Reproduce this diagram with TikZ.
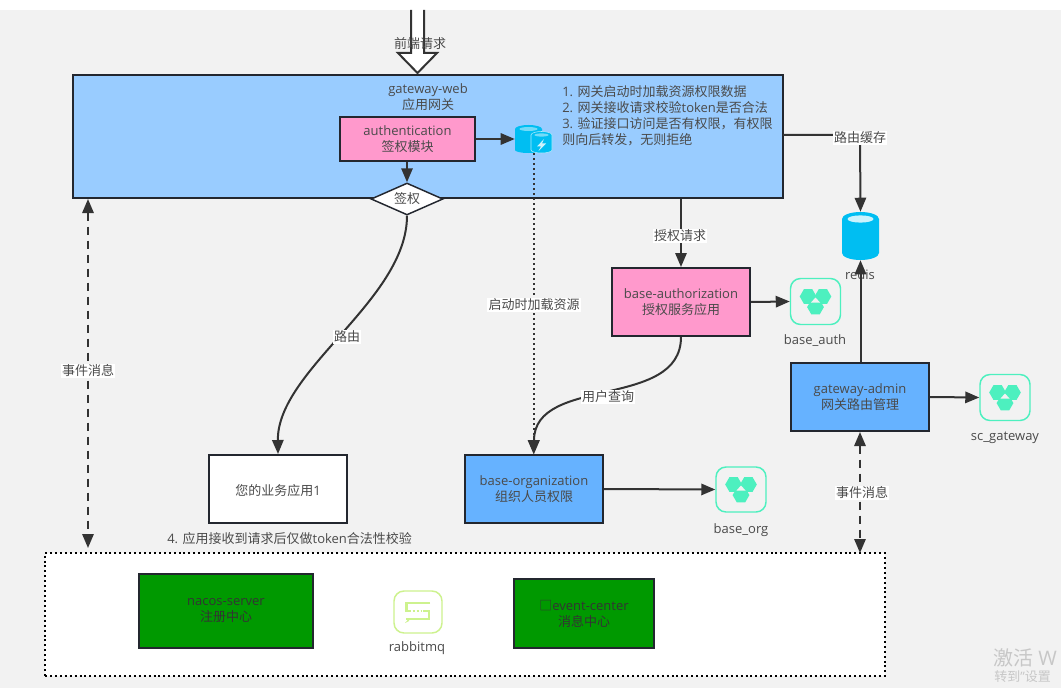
\documentclass[tikz,border=0pt]{standalone}
\usepackage{fontspec}
\setmainfont{Open Sans}
\newfontfamily\cjk{Noto Sans CJK SC}
\usetikzlibrary{arrows.meta,shapes.geometric,calc}
\newcommand\zh[1]{{\cjk #1}}
\definecolor{bggray}{HTML}{F2F2F2}
\definecolor{skyb}{HTML}{99CCFF}
\definecolor{midb}{HTML}{66B2FF}
\definecolor{pinkb}{HTML}{FF99CC}
\definecolor{greenb}{HTML}{009900}
\definecolor{edgec}{HTML}{23272F}
\definecolor{linec}{HTML}{333333}
\definecolor{textc}{HTML}{4A4A4A}
\definecolor{dbmint}{HTML}{4DF0BF}
\definecolor{mqlime}{HTML}{CDF28E}
\definecolor{cyanb}{HTML}{00BEF2}
\tikzset{
  txt/.style={font=\fontsize{9.75pt}{12pt}\selectfont,text=textc,align=center,inner sep=0pt},
  boxn/.style={txt,draw=edgec,line width=1.5pt,inner sep=0pt,execute at begin node={\rule{0pt}{10pt}}},
  lab/.style={txt,fill=white,inner sep=1pt},
  conn/.style={draw=linec,line width=1.5pt,-{Triangle[length=10.5pt,width=8.5pt]}},
  dashconn/.style={draw=linec,line width=1.5pt,dash pattern=on 6.5pt off 4pt,{Triangle[length=10.5pt,width=8.5pt]}-{Triangle[length=10.5pt,width=8.5pt]}},
  dotconn/.style={conn,dash pattern=on 1.5pt off 2.25pt},
  iconbox/.style={draw=#1,fill=bggray,line width=1.1pt,rounded corners=7.5pt,inner sep=0pt},
}
% \bx{name}{x1}{y1}{x2}{y2}{style}{text}
\newcommand\bx[7]{%
  \pgfmathsetmacro\bw{(#4-#2)*0.75}\pgfmathsetmacro\bh{(#5-#3)*0.75}%
  \node[boxn,#6,minimum width=\bw pt,minimum height=\bh pt] (#1) at ({(#2+#4)/2},{(#3+#5)/2}) {#7};}
% database icon
\newcommand\hexa[2]{\node[regular polygon,regular polygon sides=6,fill=dbmint,inner sep=0pt,minimum size=12.6pt] at (#1,#2) {};}
\newcommand\dbicon[5]{%
  \pgfmathsetmacro\bw{(#4)*0.75}\pgfmathsetmacro\bh{(#5)*0.75}%
  \node[iconbox=dbmint,minimum width=\bw pt,minimum height=\bh pt] (#1) at (#2,#3) {};
  \begin{scope}[shift={(#1.center)}]
    \hexa{-7.4}{-5}\hexa{7.4}{-5}\hexa{0}{5.6}
    \fill[bggray] (0,-4) -- (-4.5,1) -- (4.5,1) -- cycle;
  \end{scope}}
\begin{document}
\begin{tikzpicture}[x=0.75pt,y=-0.75pt]
\useasboundingbox (0,0) rectangle (1061,692);
\fill[white] (0,0) rectangle (1061,692);
\fill[bggray] (0,10) rectangle (1061,688);

% dotted container
\bx{infra}{45}{553}{885}{676}{fill=white,draw=black,line width=1.2pt,dash pattern=on 1.5pt off 2.2pt}{}
% main gateway
\bx{gw}{73}{75}{783}{198}{fill=skyb}{}
\node[txt] (gwt) at (428,97) {gateway-web\\\zh{应用网关}};
\node[txt,align=left,anchor=west] (note) at (562,116) {1. \zh{网关启动时加载资源权限数据}\\2. \zh{网关接收请求校验}token\zh{是否合法}\\3. \zh{验证接口访问是否有权限，有权限}\\\zh{则向后转发，无则拒绝}};
\bx{auth}{340}{117}{475}{161}{fill=pinkb}{authentication\\\zh{签权模块}}

% top arrow
\path[draw=linec,line width=1.5pt,fill=white] (411,10) -- (411,53) -- (398,53) -- (417.5,73) -- (437,53) -- (424,53) -- (424,10);
\node[txt] (front) at (420,44) {\zh{前端请求}};

% diamond
\node[diamond,aspect=2.25,draw=edgec,fill=white,line width=1.1pt,inner sep=0pt,minimum width=54pt,minimum height=24pt,txt] (sign) at (407,199) {\zh{签权}};

% cache icon
\node[inner sep=0pt,minimum width=27.75pt,minimum height=21pt] (cache) at (533.5,139) {};
\fill[cyanb] (515,129) arc[start angle=180,end angle=360,x radius=13.5,y radius=4] -- (542,150) arc[start angle=0,end angle=180,x radius=13.5,y radius=3] -- cycle;
\fill[cyanb!55!white] (528.5,129) ellipse[x radius=9,y radius=2];
\fill[cyanb,draw=white!70!cyanb,line width=0.4pt] (531,135) arc[start angle=180,end angle=360,x radius=10.5,y radius=3.5] -- (552,150) arc[start angle=0,end angle=180,x radius=10.5,y radius=3] -- cycle;
\fill[cyanb!55!white] (541.5,135) ellipse[x radius=7,y radius=1.6];
\fill[white!80!cyanb] (544,139) -- (537,146.5) -- (541,146.5) -- (538.5,151) -- (546,143.5) -- (542,143.5) -- cycle;

% redis
\node[inner sep=0pt,minimum width=27.75pt,minimum height=36pt] (redis) at (860.5,236) {};
\fill[cyanb] (842,219) arc[start angle=180,end angle=360,x radius=18.5,y radius=7] -- (879,253) arc[start angle=0,end angle=180,x radius=18.5,y radius=7] -- cycle;
\fill[white!80!cyanb] (860.5,219) ellipse[x radius=13,y radius=3.6];
\node[txt] (redist) at (860,275) {redis};

% boxes
\bx{bauth}{612}{268}{750}{336}{fill=pinkb}{base-authorization\\\zh{授权服务应用}}
\bx{gadmin}{791}{363}{929}{431}{fill=midb}{gateway-admin\\\zh{网关路由管理}}
\bx{borg}{465}{455}{603}{523}{fill=midb}{base-organization\\\zh{组织人员权限}}
\bx{biz}{209}{455}{347}{523}{fill=white,execute at begin node={}}{\zh{您的业务应用}1}
\bx{nacos}{139}{574}{313}{648}{fill=greenb,text=linec}{nacos-server\\\zh{注册中心}}
\bx{event}{514}{579}{654}{648}{fill=greenb,text=linec}{\zh{□}event-center\\\zh{消息中心}}

% icons
\dbicon{iauth}{815.5}{301.5}{50}{46}
\node[txt] (iautht) at (815,341) {base\_auth};
\dbicon{igw}{1005}{397.5}{50}{46}
\node[txt] (igwt) at (1005,438) {sc\_gateway};
\dbicon{iorg}{741}{489.5}{50}{45}
\node[txt] (iorgt) at (741,530) {base\_org};

% rabbitmq icon
\node[iconbox=mqlime,fill=white,minimum width=36pt,minimum height=31.5pt] (mq) at (418,612) {};
\draw[mqlime,line width=2pt] (430,603) -- (406.5,603) -- (406.5,611) -- (411,611);
\draw[mqlime,line width=2pt] (423,611) -- (429,611) -- (429,619) -- (406,619);
\fill[mqlime] (405,623) -- (409,618.5) -- (409,621) -- cycle;
\draw[mqlime,line width=1.4pt,dash pattern=on 1.5pt off 1.5pt] (412.5,611) -- (421.5,611);
\node[txt] (mqt) at (417,648) {rabbitmq};

\node[txt,anchor=west] (tip) at (167,539) {4. \zh{应用接收到请求后仅做}token\zh{合法性校验}};
\node[font=\fontsize{15pt}{15pt}\selectfont,text=black!22,anchor=west,inner sep=0pt] (wm1) at (993,658) {\zh{激活} W};
\node[font=\fontsize{9.75pt}{10pt}\selectfont,text=black!22,anchor=west,inner sep=0pt] (wm2) at (994,677) {\zh{转到}"\zh{设置}};

% connectors
\coordinate (lftdash) at (88,548);
\coordinate (rgtdash) at (860,553);
\coordinate (gwout) at (783,135);
\coordinate (gwbend) at (860,135);
\draw[conn] (auth.south -| sign.north) -- (sign.north);
\draw[conn] (auth.east) -- (auth.east -| cache.west);
\draw[dotconn] (cache.south) -- (cache.south |- borg.north);
\draw[conn] (sign.south) .. controls (407,300) and (277,370) .. (biz.north);
\draw[conn] (gwout) -- (gwbend) -- (redis.north);
\draw[conn] (gw.south -| bauth.north) -- (bauth.north);
\draw[conn] (bauth.east) -- (iauth.west);
\draw[conn] (bauth.south) .. controls (681,410) and (534,375) .. (borg.north);
\draw[conn] (gadmin.north -| redis.north) -- (redis.south);
\draw[conn] (gadmin.east) -- (igw.west);
\draw[conn] (borg.east) -- (iorg.west);
\draw[dashconn] (gw.south -| lftdash) -- (lftdash);
\draw[dashconn] (gadmin.south -| rgtdash) -- (rgtdash);

% labels
\node[lab] (l1) at (347,337) {\zh{路由}};
\node[lab] (l2) at (534,305) {\zh{启动时加载资源}};
\node[lab] (l3) at (860,138) {\zh{路由缓存}};
\node[lab] (l4) at (680,236) {\zh{授权请求}};
\node[lab] (l5) at (608,397) {\zh{用户查询}};
\node[lab] (l6) at (88,371) {\zh{事件消息}};
\node[lab] (l7) at (862,493) {\zh{事件消息}};
\end{tikzpicture}
\end{document}
